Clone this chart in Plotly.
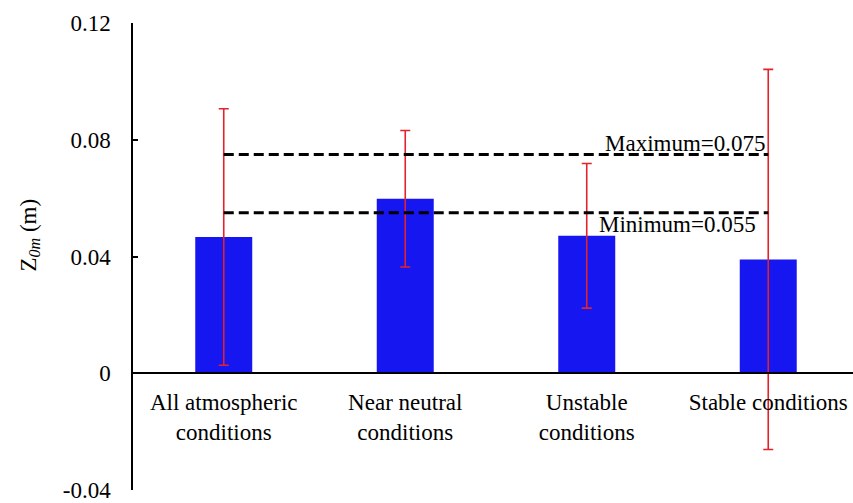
import plotly.graph_objects as go

categories = ["All atmospheric<br>conditions", "Near neutral<br>conditions",
              "Unstable<br>conditions", "Stable conditions"]
z0m_values = [0.0467, 0.0598, 0.0471, 0.0390]
z0m_errors = [0.0440, 0.0234, 0.0248, 0.0652]
max_value = 0.075
min_value = 0.055
y_tickvals = [-0.04, 0, 0.04, 0.08, 0.12]
y_ticktext = ["-0.04", "0", "0.04", "0.08", "0.12"]

FONT = "Times New Roman, serif"

fig = go.Figure()
fig.add_trace(go.Bar(
    x=categories, y=z0m_values, width=0.314,
    marker=dict(color="#1616F0", line=dict(width=0)),
    error_y=dict(type="data", array=z0m_errors, visible=True,
                 color="#E3222C", thickness=1.6, width=5),
    showlegend=False,
))
for val in (max_value, min_value):
    fig.add_trace(go.Scatter(
        x=[categories[0], categories[-1]], y=[val, val], mode="lines",
        line=dict(color="black", width=3, dash="10px,5px"),
        showlegend=False, hoverinfo="skip",
    ))

fig.add_annotation(x=categories[-1], y=max_value, xref="x", yref="y",
                   text=f"Maximum={max_value}", showarrow=False,
                   xanchor="right", yanchor="bottom", yshift=-4, xshift=0,
                   font=dict(family=FONT, size=23, color="black"))
fig.add_annotation(x=categories[-1], y=min_value, xref="x", yref="y",
                   text=f"Minimum={min_value}", showarrow=False,
                   xanchor="right", yanchor="top", yshift=3, xshift=-10,
                   font=dict(family=FONT, size=23, color="black"))
fig.add_annotation(x=-0.143, y=0.545, xref="paper", yref="paper",
                   text="Z<sub><i>0m</i></sub> (m)", showarrow=False,
                   textangle=-90, xanchor="center", yanchor="middle",
                   font=dict(family=FONT, size=23, color="black"))

fig.update_layout(
    width=853, height=503,
    margin=dict(l=133, r=0, t=23, b=9),
    paper_bgcolor="white", plot_bgcolor="white",
    font=dict(family=FONT, size=23, color="black"),
    xaxis=dict(type="category", range=[-0.5, 3.467], anchor="free", position=0.25,
               showline=True, linecolor="black", linewidth=1.5,
               ticks="", showgrid=False, zeroline=False, ticklabelstandoff=8,
               tickfont=dict(family=FONT, size=23, color="black")),
    yaxis=dict(range=[-0.0401, 0.1201], tickvals=y_tickvals, ticktext=y_ticktext,
               showline=True, linecolor="black", linewidth=1.5,
               ticks="inside", ticklen=5, tickcolor="black", tickwidth=1.5,
               showgrid=False, zeroline=False, ticklabelstandoff=16,
               ticklabeloverflow="allow",
               tickfont=dict(family=FONT, size=23, color="black")),
)
fig.write_html("out.html")
